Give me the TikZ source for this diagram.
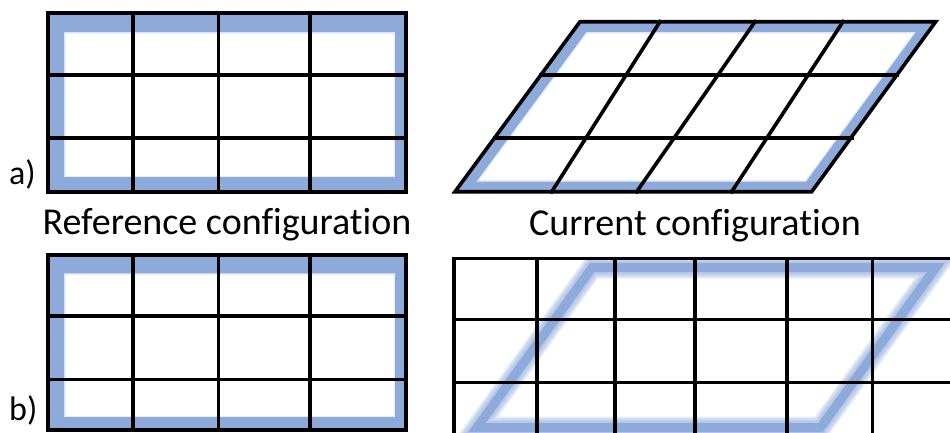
\documentclass[tikz,border=0pt]{standalone}
\usepackage{fontspec}
\setmainfont{Carlito}[Ligatures=NoCommon]
\definecolor{bandblue}{HTML}{8EAADB}
\tikzset{
  gridline/.style={black, line width=3.6pt, line cap=rect, line join=miter},
  bandfill/.style={fill=bandblue, even odd rule},
  bandsoft/.style={draw=bandblue, line width=3pt, opacity=0.2, line join=miter},
  glow/.style={draw=bandblue, line join=miter, opacity=0.22},
  caption/.style={font=\fontsize{38}{44}\selectfont, anchor=base, inner sep=0pt},
  tag/.style={font=\fontsize{34}{38}\selectfont, anchor=base west, inner sep=0pt}
}
\begin{document}
\begin{tikzpicture}[x=1pt,y=-1pt]
\useasboundingbox (0,0) rectangle (950,432);
\begin{scope}
\clip (0,0) rectangle (950,432);
% ---------- a) reference ----------
\fill[bandfill] (48,13) rectangle (406,192) (64,32) rectangle (395,177);
\draw[bandsoft] (64,32) rectangle (395,177);
\draw[gridline] (48,13) rectangle (406,192);
\foreach \x in {132.7,218.3,310} \draw[gridline] (\x,13) -- (\x,192);
\foreach \y in {75,137.7} \draw[gridline] (48,\y) -- (406,\y);
% ---------- a) current ----------
\fill[bandfill] (580,21.7) -- (935.7,21.7) -- (811.7,191.7) -- (455,191.7) -- cycle
  (586.4,32) -- (916,32) -- (806,181.7) -- (476.4,181.7) -- cycle;
\draw[bandsoft] (586.4,32) -- (916,32) -- (806,181.7) -- (476.4,181.7) -- cycle;
\draw[gridline] (580,21.7) -- (935.7,21.7) -- (811.7,191.7) -- (455,191.7) -- cycle;
\draw[gridline] (540.8,75) -- (897.5,75);
\draw[gridline] (494.7,137.7) -- (852.5,137.7);
\draw[gridline] (660,21.7) -- (551.7,191.7);
\draw[gridline] (755,21.7) -- (636.7,191.7);
\draw[gridline] (843,21.7) -- (731.7,191.7);
% ---------- b) reference ----------
\fill[bandfill] (48,255) rectangle (406,430) (64,273.3) rectangle (395,417);
\draw[bandsoft] (64,273.3) rectangle (395,417);
\draw[gridline] (48,255) rectangle (406,430);
\foreach \x in {132.7,218.3,310} \draw[gridline] (\x,255) -- (\x,430);
\foreach \y in {316,379.3} \draw[gridline] (48,\y) -- (406,\y);
% ---------- b) current ----------
\foreach \w in {22,19,16,13}
  \draw[glow, line width=\w pt] (592.2,267.5) -- (935.8,267.5) -- (820.6,427.5) -- (477,427.5) -- cycle;
\draw[draw=bandblue, line width=9pt, line join=miter] (592.2,267.5) -- (935.8,267.5) -- (820.6,427.5) -- (477,427.5) -- cycle;
\draw[gridline] (454,440) -- (454,258.3) -- (960,258.3);
\foreach \x in {536.7,615,695,786.7,872.3} \draw[gridline] (\x,258.3) -- (\x,440);
\foreach \y in {319.3,382.3} \draw[gridline] (454,\y) -- (960,\y);
\end{scope}
% ---------- texts ----------
\node[caption] (refcap) at (227,234) {Reference configuration};
\node[caption] (curcap) at (695,235) {Current configuration};
\node[tag] (taga) at (9,184) {a)};
\node[tag] (tagb) at (9,420) {b)};
\end{tikzpicture}
\end{document}
